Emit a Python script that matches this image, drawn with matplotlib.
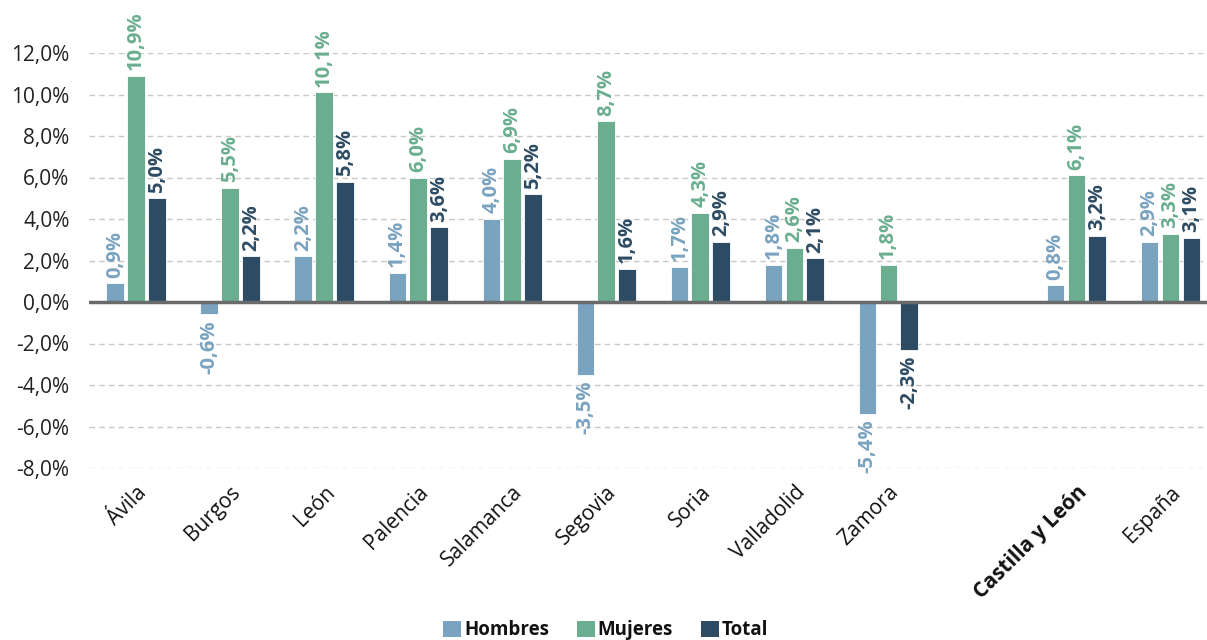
import matplotlib
matplotlib.use("Agg")
import matplotlib.pyplot as plt
import numpy as np
from matplotlib.patches import Patch
from matplotlib.ticker import FuncFormatter

plt.rcParams['font.family'] = ['Open Sans', 'DejaVu Sans']

categories = ["Ávila", "Burgos", "León", "Palencia", "Salamanca", "Segovia",
              "Soria", "Valladolid", "Zamora", "", "Castilla y León", "España"]
hombres = [0.9, -0.6, 2.2, 1.4, 4.0, -3.5, 1.7, 1.8, -5.4, None, 0.8, 2.9]
mujeres = [10.9, 5.5, 10.1, 6.0, 6.9, 8.7, 4.3, 2.6, 1.8, None, 6.1, 3.3]
total = [5.0, 2.2, 5.8, 3.6, 5.2, 1.6, 2.9, 2.1, -2.3, None, 3.2, 3.1]
series_names = ["Hombres", "Mujeres", "Total"]
yticks = [-8, -6, -4, -2, 0, 2, 4, 6, 8, 10, 12]

colors = ["#7aa3c0", "#6aae8f", "#2d4c63"]

fig = plt.figure(figsize=(12.07, 6.40), dpi=100)
ax = fig.add_axes([89 / 1207, 1 - 468 / 640, 1 - 89 / 1207, (468 - 53) / 640])

x = np.arange(len(categories))
width = 0.185
offsets = [-0.222, 0.0, 0.222]
for vals, off, col in zip([hombres, mujeres, total], offsets, colors):
    for xi, v in zip(x, vals):
        if v is None:
            continue
        ax.bar(xi + off, v, width=width, color=col, edgecolor='white', linewidth=0.6, zorder=3)
        lab = f"{v:.1f}%".replace(".", ",")
        if v >= 0:
            ax.annotate(lab, (xi + off, v), xytext=(0, 4), textcoords='offset points',
                        rotation=90, ha='center', va='bottom', color=col,
                        fontsize=14.5, fontweight='bold', annotation_clip=False)
        else:
            ax.annotate(lab, (xi + off, v), xytext=(0, -4), textcoords='offset points',
                        rotation=90, ha='center', va='top', color=col,
                        fontsize=14.5, fontweight='bold', annotation_clip=False)

ax.set_ylim(-8, 12)
ax.set_xlim(-0.5, 11.39)
ax.set_yticks(yticks)
ax.yaxis.set_major_formatter(FuncFormatter(lambda v, p: f"{v:.1f}%".replace(".", ",")))
ax.tick_params(axis='y', length=0, labelsize=15, labelcolor='#222222', pad=14)
ax.grid(axis='y', linestyle=(0, (4, 3)), color='#c8c8c8', linewidth=1.0, zorder=0)
ax.axhline(0, color='#6a6a6a', linewidth=2.5, zorder=4)
for s in ax.spines.values():
    s.set_visible(False)

ax.set_xticks(x)
ax.set_xticklabels(categories, rotation=45, ha='right', rotation_mode='anchor', fontsize=15, color='#111111')
ax.tick_params(axis='x', length=0, pad=10)
for t in ax.get_xticklabels():
    if t.get_text() == "Castilla y León":
        t.set_fontweight('bold')

handles = [Patch(facecolor=c, edgecolor='none') for c in colors]
leg = fig.legend(handles, series_names, loc='center', bbox_to_anchor=(0.502, 0.015),
                 ncol=3, frameon=False, handlelength=0.95, handleheight=0.95,
                 handletextpad=0.15, columnspacing=1.5,
                 prop={'size': 13.5, 'weight': 'bold'})
for t in leg.get_texts():
    t.set_color('#111111')

fig.savefig("out.png", dpi=100)
